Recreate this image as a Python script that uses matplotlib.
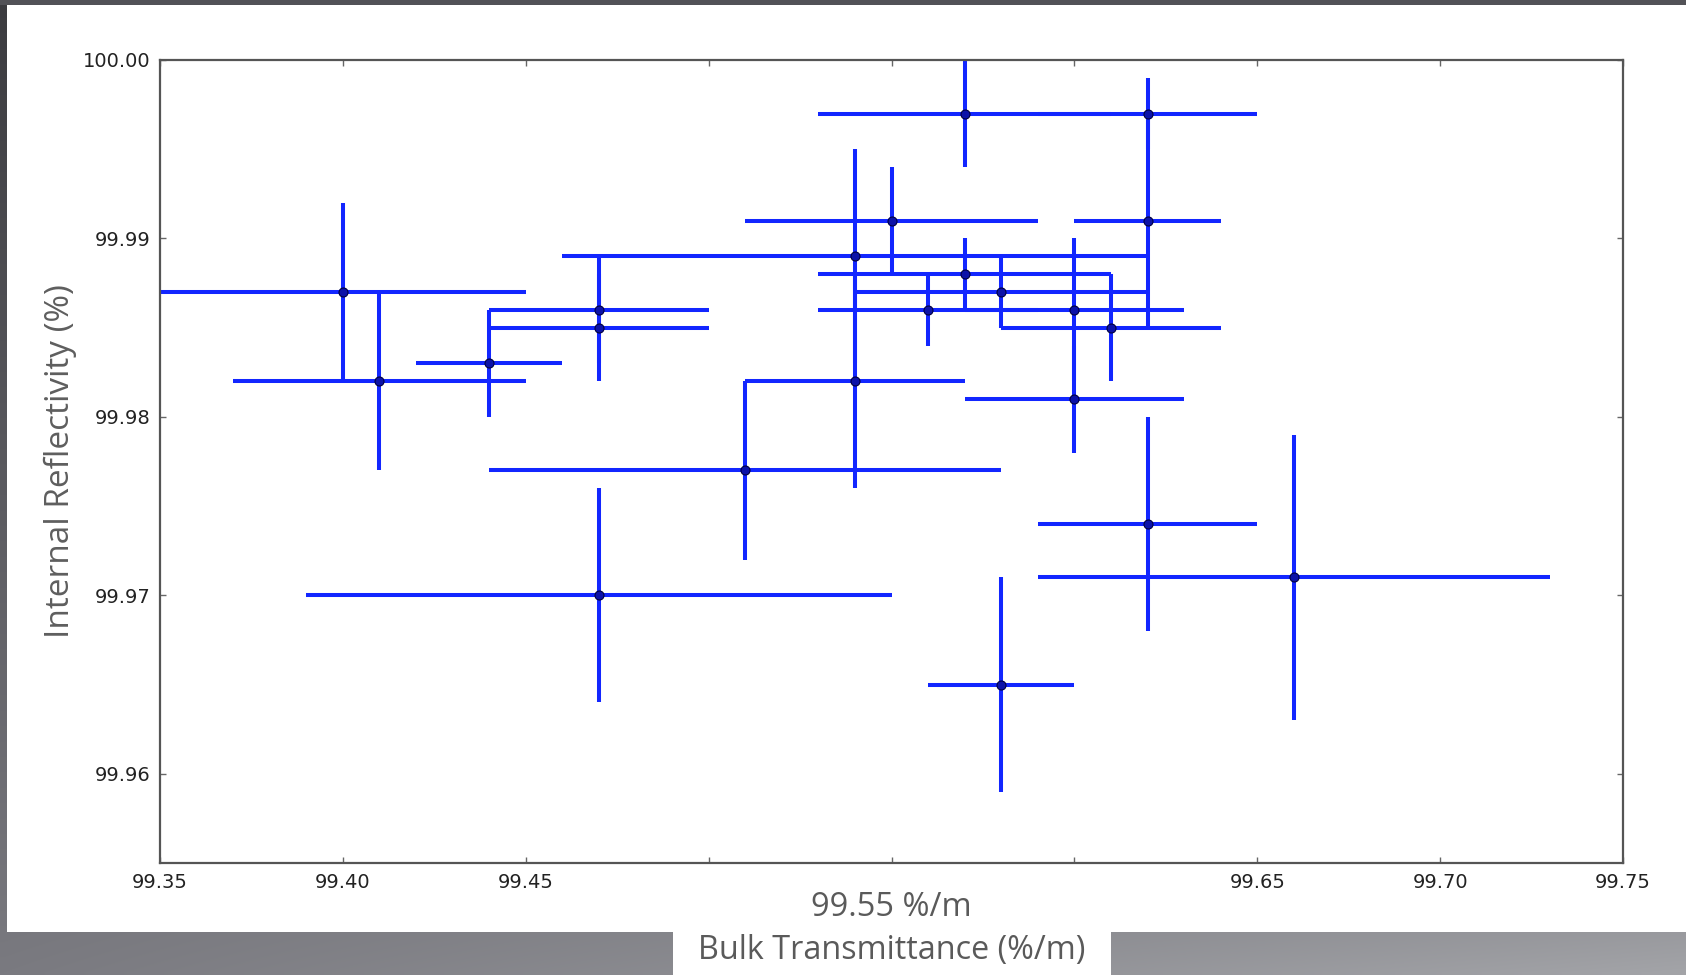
import numpy as np
import matplotlib
matplotlib.use("Agg")
import matplotlib.pyplot as plt
from matplotlib.patches import Rectangle
from matplotlib.colors import to_rgb

# Measurements: bulk transmittance (%/m) vs internal reflectivity (%)
transmittance = [99.40, 99.41, 99.44, 99.47, 99.47, 99.47, 99.51, 99.54, 99.54, 99.55, 99.57,
                 99.62, 99.62, 99.57, 99.56, 99.58, 99.60, 99.60, 99.61, 99.62, 99.66, 99.58]
reflectivity = [99.987, 99.982, 99.983, 99.986, 99.985, 99.970, 99.977, 99.989, 99.982, 99.991, 99.997,
                99.997, 99.991, 99.988, 99.986, 99.987, 99.986, 99.981, 99.985, 99.974, 99.971, 99.965]
transmittance_err = [0.05, 0.04, 0.02, 0.03, 0.03, 0.08, 0.07, 0.08, 0.03, 0.04, 0.04,
                     0.03, 0.02, 0.04, 0.03, 0.04, 0.03, 0.03, 0.03, 0.03, 0.07, 0.02]
reflectivity_err = [0.005, 0.005, 0.003, 0.003, 0.003, 0.006, 0.005, 0.006, 0.006, 0.003, 0.003,
                    0.002, 0.006, 0.002, 0.002, 0.002, 0.004, 0.003, 0.003, 0.006, 0.008, 0.006]

x_ticks = [99.35, 99.40, 99.45, 99.50, 99.55, 99.60, 99.65, 99.70, 99.75]
x_tick_labels = ["99.35", "99.40", "99.45", "", "", "", "99.65", "99.70", "99.75"]
y_ticks = [99.96, 99.97, 99.98, 99.99, 100.00]
y_tick_labels = ["99.96", "99.97", "99.98", "99.99", "100.00"]
mean_transmittance = 99.55

W, H = 1686, 975
fig = plt.figure(figsize=(W / 100, H / 100), dpi=100)

# Slide background: dark frame with grey gradients, white content panel
bg = fig.add_axes([0, 0, 1, 1], zorder=-10)
bg.set_xlim(0, W)
bg.set_ylim(H, 0)
bg.axis("off")
yy = np.linspace(0, 1, 200)[:, None]
xx = np.linspace(0, 1, 200)[None, :]
c_top = np.array(to_rgb("#3b3b3f"))
c_bot = np.array(to_rgb("#7a7a80"))
c_right = np.array(to_rgb("#a3a4a8"))
grad = c_top[None, None, :] * (1 - yy[..., None]) + c_bot[None, None, :] * yy[..., None]
# bottom strip fades toward lighter grey on the right
mix = (yy[..., None] ** 6) * xx[..., None]
grad = grad * (1 - mix) + c_right[None, None, :] * mix
bg.imshow(grad, extent=[0, W, H, 0], aspect="auto", interpolation="bilinear")
bg.add_patch(Rectangle((0, 0), W, 5, color="#525257", lw=0))
bg.add_patch(Rectangle((7, 5), W - 7, 927, color="white", lw=0))
bg.add_patch(Rectangle((673, 932), 438, 43, color="white", lw=0))

ax = fig.add_axes([160 / W, 1 - 863 / H, (1623 - 160) / W, (863 - 60) / H])
ax.errorbar(transmittance, reflectivity, xerr=transmittance_err, yerr=reflectivity_err,
            fmt="o", color="#0000ff", ecolor="#1226ff", elinewidth=2.9, capsize=0,
            ms=6.5, mfc="#0c12a8", mec="#000040", mew=0.8)

ax.set_xlim(99.35, 99.75)
ax.set_ylim(99.955, 100.00)
ax.set_xticks(x_ticks)
ax.set_xticklabels(x_tick_labels)
ax.set_yticks(y_ticks)
ax.set_yticklabels(y_tick_labels)
ax.tick_params(direction="in", length=4, width=1, color="#666666", top=True, right=True,
               labelsize=14, labelcolor="#222222", pad=7)
for sp in ax.spines.values():
    sp.set_color("#555555")
    sp.set_linewidth(1.6)

ax.set_ylabel("Internal Reflectivity (%)", fontsize=24, color="#5e5e5e", family="Open Sans")
ax.yaxis.set_label_coords((77 - 160) / (1623 - 160), 0.5)

trans = matplotlib.transforms.blended_transform_factory(ax.transData, fig.transFigure)
fig.text(mean_transmittance, 1 - 907 / H, f"{mean_transmittance:.2f} %/m", transform=trans,
         ha="center", va="center", fontsize=23.5, color="#5a5a5a", family="Open Sans")
fig.text(892 / W, 1 - 950 / H, "Bulk Transmittance (%/m)", ha="center", va="center",
         fontsize=23.3, color="#5a5a5a", family="Open Sans")

fig.savefig("out.png", dpi=100)
